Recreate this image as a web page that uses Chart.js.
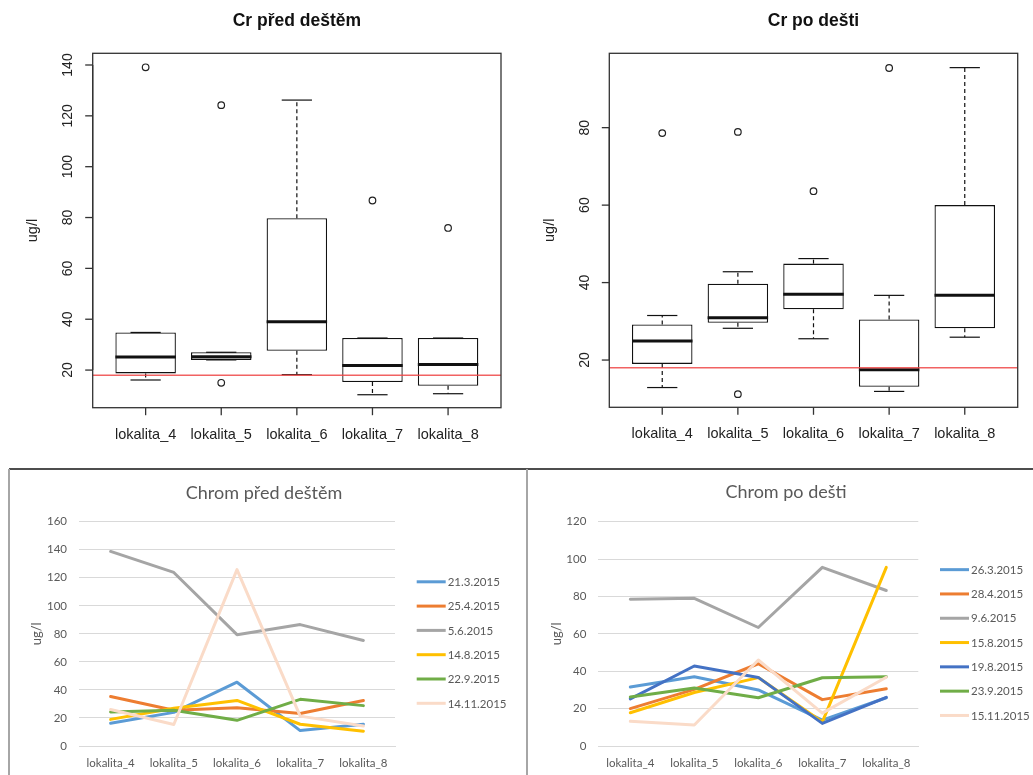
<!DOCTYPE html>
<html>
<head>
<meta charset="utf-8">
<title>Cr před a po dešti</title>
<script src="https://cdn.jsdelivr.net/npm/chart.js@4.4.1/dist/chart.umd.min.js"></script>
<style>
  html, body { margin: 0; padding: 0; background: #fff; }
  body { width: 1033px; height: 775px; position: relative; overflow: hidden; }
  canvas { position: absolute; }
  .rule { position: absolute; }
</style>
</head>
<body>
<canvas id="boxPred" style="left:0;top:0;width:516px;height:460px" width="516" height="460"></canvas>
<canvas id="boxPo" style="left:516px;top:0;width:517px;height:460px" width="517" height="460"></canvas>

<div class="rule" style="left:9px;top:468px;width:1024px;height:2px;background:#4d4d4d"></div>
<div class="rule" style="left:8px;top:469px;width:2px;height:306px;background:#a6a6a6"></div>
<div class="rule" style="left:526px;top:469px;width:2px;height:306px;background:#a6a6a6"></div>

<canvas id="linePred" style="left:11px;top:471px;width:515px;height:304px" width="515" height="304"></canvas>
<canvas id="linePo" style="left:529px;top:471px;width:504px;height:304px" width="504" height="304"></canvas>

<script>
const lokality = ['lokalita_4', 'lokalita_5', 'lokalita_6', 'lokalita_7', 'lokalita_8'];
const limitCr = 18;

// boxplot "Cr před deštěm" (odečteno z grafu v R)
const predMin = [16.1, 24.0, 18.2, 10.3, 10.7];
const predQ1 = [18.7, 24.0, 27.6, 15.3, 13.8];
const predMedian = [25.1, 25.2, 39.0, 21.8, 22.2];
const predQ3 = [34.8, 27.0, 79.7, 32.6, 32.6];
const predMax = [34.8, 27.0, 126.2, 32.6, 32.6];
const predOutliers = [[139.1], [124.2, 15.0], [], [86.7], [75.9]];
const predBoxTicks = [20, 40, 60, 80, 100, 120, 140];

// boxplot "Cr po dešti"
const poMin = [12.9, 28.2, 25.5, 11.9, 25.9];
const poQ1 = [19.0, 29.6, 33.1, 13.1, 28.2];
const poMedian = [24.9, 30.9, 37.0, 17.5, 36.7];
const poQ3 = [29.2, 39.7, 44.9, 30.5, 60.0];
const poMax = [31.5, 42.8, 46.2, 36.7, 95.5];
const poOutliers = [[78.6], [78.9, 11.2], [63.6], [95.4], []];
const poBoxTicks = [20, 40, 60, 80];

// Chrom před deštěm - jednotlivé odběry
const predDates = ['21.3.2015', '25.4.2015', '5.6.2015', '14.8.2015', '22.9.2015', '14.11.2015'];
const pred21_3 = [16.3, 24.0, 45.5, 11.0, 15.5];
const pred25_4 = [35.3, 25.5, 27.3, 23.2, 32.5];
const pred5_6 = [138.8, 123.8, 79.4, 86.6, 75.3];
const pred14_8 = [19.0, 27.0, 32.5, 15.5, 10.6];
const pred22_9 = [24.2, 25.5, 18.3, 33.3, 28.8];
const pred14_11 = [26.0, 15.3, 125.8, 21.3, 14.2];

// Chrom po dešti
const poDates = ['26.3.2015', '28.4.2015', '9.6.2015', '15.8.2015', '19.8.2015', '23.9.2015', '15.11.2015'];
const po26_3 = [31.6, 37.0, 30.0, 13.8, 25.8];
const po28_4 = [20.0, 30.3, 44.0, 24.8, 30.6];
const po9_6 = [78.5, 79.0, 63.4, 95.6, 83.2];
const po15_8 = [17.8, 28.6, 36.6, 12.8, 95.6];
const po19_8 = [25.2, 42.8, 36.7, 12.1, 26.0];
const po23_9 = [26.2, 31.0, 25.8, 36.5, 37.0];
const po15_11 = [13.2, 11.2, 46.0, 17.6, 36.8];

const predLineTicks = [0, 20, 40, 60, 80, 100, 120, 140, 160];
const poLineTicks = [0, 20, 40, 60, 80, 100, 120];

const RFONT = '"Liberation Sans", Arial, sans-serif';
const XLFONT = 'Lato, "Open Sans", sans-serif';
const XLTEXT = '#595959';

// kreslení whiskerů, mediánů, os a rámečku ve stylu R
const rBoxPlugin = {
    id: 'rBox',
    afterDatasetsDraw(chart, args, opts) {
        const { ctx, chartArea: a, scales: { x, y } } = chart;
        const line = (x1, y1, x2, y2) => {
            ctx.beginPath();
            ctx.moveTo(x1, y1);
            ctx.lineTo(x2, y2);
            ctx.stroke();
        };
        ctx.save();
        ctx.strokeStyle = '#111';

        opts.min.forEach((lo, i) => {
            const cx = x.getPixelForValue(i + 1);
            const capL = x.getPixelForValue(i + 0.8);
            const capR = x.getPixelForValue(i + 1.2);
            [[opts.q1[i], lo], [opts.q3[i], opts.max[i]]].forEach(([from, to]) => {
                ctx.lineWidth = 1.2;
                ctx.setLineDash([4, 3]);
                line(cx, y.getPixelForValue(from), cx, y.getPixelForValue(to));
                ctx.setLineDash([]);
                line(capL, y.getPixelForValue(to), capR, y.getPixelForValue(to));
            });
            ctx.lineWidth = 3;
            const my = y.getPixelForValue(opts.median[i]);
            line(x.getPixelForValue(i + 0.6), my, x.getPixelForValue(i + 1.4), my);
        });

        // limitní hodnota
        ctx.strokeStyle = 'rgba(238, 70, 70, 0.85)';
        ctx.lineWidth = 1.5;
        const ly = y.getPixelForValue(opts.limit);
        line(a.left, ly, a.right, ly);

        // rámeček
        ctx.strokeStyle = '#333';
        ctx.lineWidth = 1.3;
        ctx.strokeRect(a.left, a.top, a.right - a.left, a.bottom - a.top);

        // osa y
        ctx.fillStyle = '#222';
        ctx.font = '14px ' + RFONT;
        ctx.textAlign = 'center';
        ctx.textBaseline = 'middle';
        line(a.left, y.getPixelForValue(opts.ticks[0]), a.left, y.getPixelForValue(opts.ticks[opts.ticks.length - 1]));
        opts.ticks.forEach(t => {
            const ty = y.getPixelForValue(t);
            line(a.left - 7.5, ty, a.left, ty);
            ctx.save();
            ctx.translate(a.left - 24.5, ty);
            ctx.rotate(-Math.PI / 2);
            ctx.fillText(String(t), 0, 0);
            ctx.restore();
        });

        // osa x
        ctx.font = '14.5px ' + RFONT;
        lokality.forEach((name, i) => {
            const tx = x.getPixelForValue(i + 1);
            line(tx, a.bottom, tx, a.bottom + 7.5);
            ctx.fillText(name, tx, a.bottom + 27);
        });

        // popisek osy y
        ctx.save();
        ctx.translate(a.left - 59.7, (a.top + a.bottom) / 2);
        ctx.rotate(-Math.PI / 2);
        ctx.fillText('ug/l', 0, 0);
        ctx.restore();

        // nadpis
        ctx.font = 'bold 17.5px ' + RFONT;
        ctx.textBaseline = 'alphabetic';
        ctx.fillStyle = '#111';
        ctx.fillText(opts.title, (a.left + a.right) / 2, 26);
        ctx.restore();
    }
};

function makeBoxplot(canvasId, title, stats, outliers, ticks, yMin, yMax, padding) {
    const ctx = document.getElementById(canvasId).getContext('2d');
    return new Chart(ctx, {
        type: 'bar',
        data: {
            datasets: [
                {
                    data: lokality.map((_, i) => ({ x: i + 1, y: [stats.q1[i], stats.q3[i]] })),
                    backgroundColor: '#ffffff',
                    borderColor: '#111',
                    borderWidth: 1.3,
                    borderSkipped: false,
                    categoryPercentage: 1,
                    barPercentage: 0.8
                },
                {
                    type: 'scatter',
                    data: outliers.flatMap((vals, i) => vals.map(v => ({ x: i + 1, y: v }))),
                    pointRadius: 3.3,
                    pointBackgroundColor: '#ffffff',
                    pointBorderColor: '#222',
                    pointBorderWidth: 1.2
                }
            ]
        },
        options: {
            responsive: false,
            animation: false,
            layout: { padding },
            plugins: {
                legend: { display: false },
                tooltip: { enabled: false },
                rBox: { title, ticks, limit: limitCr, ...stats }
            },
            scales: {
                x: {
                    type: 'linear',
                    display: false,
                    offset: false,
                    min: 0.3,
                    max: 5.7,
                    ticks: { stepSize: 1, includeBounds: false }
                },
                y: {
                    display: false,
                    min: yMin,
                    max: yMax
                }
            }
        },
        plugins: [rBoxPlugin]
    });
}

// nadpis a legenda ve stylu Excelu
const excelDecor = {
    id: 'excelDecor',
    afterDraw(chart, args, opts) {
        const { ctx, chartArea: a } = chart;
        ctx.save();
        ctx.fillStyle = XLTEXT;
        ctx.textAlign = 'center';
        ctx.textBaseline = 'middle';
        ctx.font = '18px ' + XLFONT;
        ctx.fillText(opts.title, opts.titleX, opts.titleY);

        const sets = chart.data.datasets;
        const step = 24.3;
        const cy = (a.top + a.bottom) / 2 + 8.7;
        const y0 = cy - (sets.length - 1) / 2 * step;
        const x0 = a.right + 21.7;
        ctx.font = '11.5px ' + XLFONT;
        ctx.textAlign = 'left';
        sets.forEach((ds, i) => {
            const ly = y0 + i * step;
            ctx.strokeStyle = ds.borderColor;
            ctx.lineWidth = 3;
            ctx.beginPath();
            ctx.moveTo(x0, ly);
            ctx.lineTo(x0 + 29, ly);
            ctx.stroke();
            ctx.fillText(ds.label, x0 + 31, ly + 0.5);
        });
        ctx.restore();
    }
};

function makeLineChart(canvasId, title, titlePos, labels, series, colors, yTicks, layoutPadding, yWidth, yTitlePad) {
    const ctx = document.getElementById(canvasId).getContext('2d');
    const n = series.length;
    const datasets = series.map((values, i) => ({
        label: labels[i],
        data: values,
        borderColor: colors[i],
        backgroundColor: colors[i],
        borderWidth: 3,
        borderJoinStyle: 'round',
        borderCapStyle: 'round',
        pointRadius: 0,
        tension: 0,
        fill: false,
        order: n - i
    }));
    return new Chart(ctx, {
        type: 'line',
        data: { labels: lokality, datasets },
        options: {
            responsive: false,
            animation: false,
            layout: { padding: layoutPadding },
            plugins: {
                legend: { display: false },
                tooltip: { enabled: false },
                excelDecor: { title, titleX: titlePos[0], titleY: titlePos[1] }
            },
            scales: {
                x: {
                    offset: true,
                    grid: { display: false, drawTicks: false },
                    border: { display: true, color: '#d9d9d9', width: 1 },
                    ticks: {
                        color: XLTEXT,
                        font: { family: XLFONT, size: 11.5 },
                        padding: 10,
                        maxRotation: 0,
                        autoSkip: false
                    },
                    afterFit: s => { s.height = 29; }
                },
                y: {
                    min: yTicks[0],
                    max: yTicks[yTicks.length - 1],
                    afterBuildTicks: s => { s.ticks = yTicks.map(v => ({ value: v })); },
                    grid: { color: '#d9d9d9', drawTicks: false },
                    border: { display: false },
                    ticks: {
                        color: XLTEXT,
                        font: { family: XLFONT, size: 11.5 },
                        padding: 12
                    },
                    title: {
                        display: true,
                        text: 'ug/l',
                        color: XLTEXT,
                        font: { family: XLFONT, size: 13 },
                        padding: { top: yTitlePad, bottom: 0 }
                    },
                    afterFit: s => { s.width = yWidth; }
                }
            }
        },
        plugins: [excelDecor]
    });
}

makeBoxplot('boxPred', 'Cr před deštěm',
    { min: predMin, q1: predQ1, median: predMedian, q3: predQ3, max: predMax },
    predOutliers, predBoxTicks, 5.2, 144.6,
    { left: 92.7, top: 53.3, right: 15, bottom: 52.3 });

makeBoxplot('boxPo', 'Cr po dešti',
    { min: poMin, q1: poQ1, median: poMedian, q3: poQ3, max: poMax },
    poOutliers, poBoxTicks, 7.8, 99.2,
    { left: 93.3, top: 53.3, right: 15.3, bottom: 52.7 });

makeLineChart('linePred', 'Chrom před deštěm', [253, 22.3], predDates,
    [pred21_3, pred25_4, pred5_6, pred14_8, pred22_9, pred14_11],
    ['#5B9BD5', '#ED7D31', '#A5A5A5', '#FFC000', '#70AD47', '#FADBC8'],
    predLineTicks, { left: 0, top: 50.7, right: 131, bottom: 0 }, 68, 17.9);

makeLineChart('linePo', 'Chrom po dešti', [257, 21.3], poDates,
    [po26_3, po28_4, po9_6, po15_8, po19_8, po23_9, po15_11],
    ['#5B9BD5', '#ED7D31', '#A5A5A5', '#FFC000', '#4472C4', '#70AD47', '#FADBC8'],
    poLineTicks, { left: 0, top: 50.7, right: 114.7, bottom: 0 }, 69.3, 19.9);
</script>
</body>
</html>
